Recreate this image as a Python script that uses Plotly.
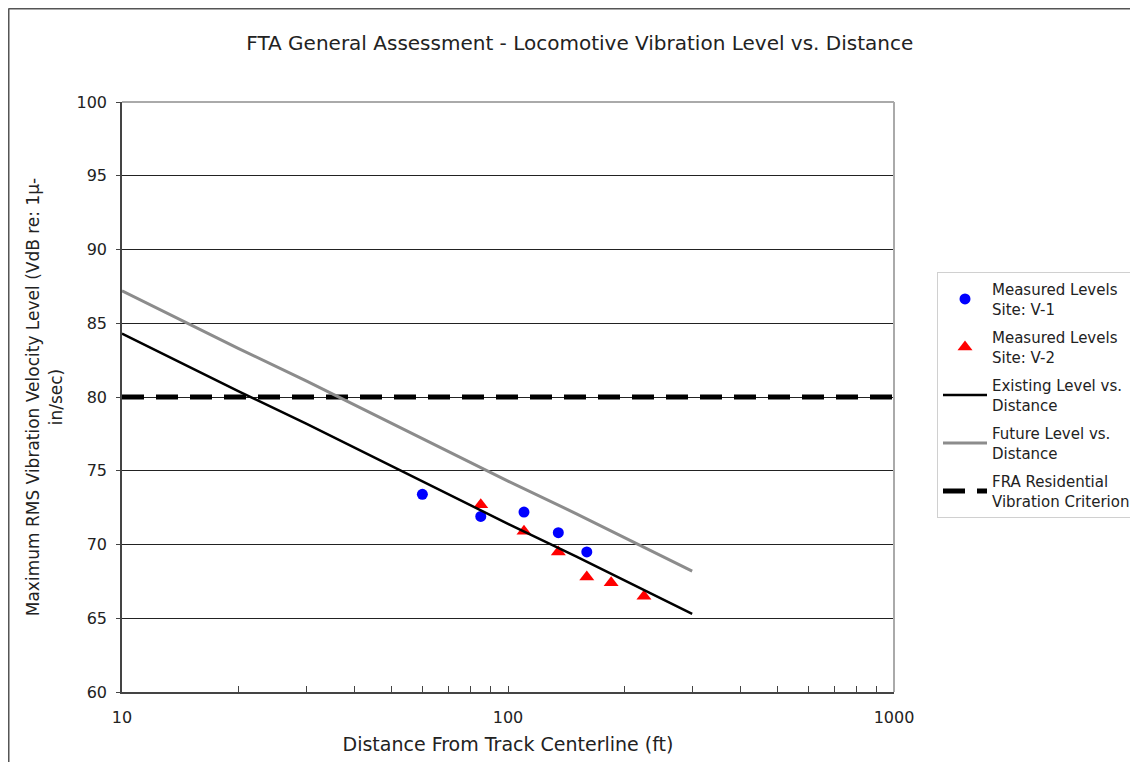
import plotly.graph_objects as go

# Measured data
v1_dist = [60, 85, 110, 135, 160]
v1_level = [73.4, 71.9, 72.2, 70.8, 69.5]
v2_dist = [85, 110, 135, 160, 185, 225]
v2_level = [72.7, 70.9, 69.5, 67.8, 67.4, 66.5]

# Curves
curve_dist = [10, 15, 20, 30, 50, 70, 100, 150, 200, 300]
existing_level = [84.3, 82.0, 80.4, 78.2, 75.3, 73.4, 71.4, 69.2, 67.6, 65.3]
future_level = [87.2, 84.9, 83.3, 81.1, 78.2, 76.3, 74.3, 72.1, 70.5, 68.2]

# Criterion
fra_dist = [10, 1000]
fra_level = [80, 80]

x_tickvals = [10, 20, 30, 40, 50, 60, 70, 80, 90, 100, 200, 300, 400, 500, 600, 700, 800, 900, 1000]
x_ticktext = ["10", "", "", "", "", "", "", "", "", "100", "", "", "", "", "", "", "", "", "1000"]
y_tickvals = [60, 65, 70, 75, 80, 85, 90, 95, 100]

font = "DejaVu Sans, Liberation Sans, Arial, sans-serif"
txt = "#222"

fig = go.Figure()
fig.add_trace(go.Scatter(x=v1_dist, y=v1_level, mode="markers",
                         marker=dict(color="#0000ff", size=11, symbol="circle"),
                         name="Measured Levels<br>Site: V-1", legendgroup="a", legendrank=1))
fig.add_trace(go.Scatter(x=v2_dist, y=v2_level, mode="markers",
                         marker=dict(color="#ff0000", size=13, symbol="triangle-up"),
                         name="Measured Levels<br>Site: V-2", legendgroup="b", legendrank=2))
fig.add_trace(go.Scatter(x=fra_dist, y=fra_level, mode="lines",
                         line=dict(color="black", width=5, dash="22px,12px"),
                         name="FRA Residential<br>Vibration Criterion", legendgroup="e", legendrank=5))
fig.add_trace(go.Scatter(x=curve_dist, y=existing_level, mode="lines",
                         line=dict(color="black", width=2.5),
                         name="Existing Level vs.<br>Distance", legendgroup="c", legendrank=3))
fig.add_trace(go.Scatter(x=curve_dist, y=future_level, mode="lines",
                         line=dict(color="#8c8c8c", width=3),
                         name="Future Level vs.<br>Distance", legendgroup="d", legendrank=4))

fig.update_layout(
    width=1130, height=754,
    margin=dict(l=114, r=244, t=94, b=70, autoexpand=False),
    paper_bgcolor="white", plot_bgcolor="white",
    font=dict(family=font, size=16, color=txt),
    title=dict(text="FTA General Assessment - Locomotive Vibration Level vs. Distance",
               x=0.506, xanchor="center", y=0.9536, yanchor="middle",
               font=dict(family=font, size=20, color=txt)),
    legend=dict(x=1.0557, xanchor="left", y=0.712, yanchor="top",
                bordercolor="#d0d0d0", borderwidth=1, bgcolor="white",
                font=dict(family=font, size=15, color=txt),
                traceorder="grouped", tracegroupgap=6, itemwidth=44),
    showlegend=True,
)
fig.update_xaxes(type="log", range=[1, 3], tickvals=x_tickvals, ticktext=x_ticktext,
                 ticks="inside", ticklen=6, tickcolor="#444",
                 showgrid=False, showline=True, linecolor="#444", linewidth=1.5,
                 tickfont=dict(family=font, size=16, color=txt), ticklabelstandoff=10,
                 title=dict(text="Distance From Track Centerline (ft)", standoff=12,
                            font=dict(family=font, size=19, color=txt)))
fig.update_yaxes(range=[60, 100], tickvals=y_tickvals,
                 ticks="outside", ticklen=4, tickcolor="#444",
                 showgrid=True, gridcolor="#222", gridwidth=1,
                 showline=True, linecolor="#444", linewidth=1.5,
                 tickfont=dict(family=font, size=16, color=txt), ticklabelstandoff=6,
                 title=dict(text="Maximum RMS Vibration Velocity Level (VdB re: 1µ-<br>in/sec)",
                            standoff=10, font=dict(family=font, size=17, color=txt)))

# plot frame top/right in light gray
fig.add_shape(type="line", xref="paper", yref="paper", x0=0, x1=1, y0=1, y1=1,
              line=dict(color="#aaaaaa", width=2))
fig.add_shape(type="line", xref="paper", yref="paper", x0=1, x1=1, y0=0, y1=1,
              line=dict(color="#aaaaaa", width=2))
# outer chart border (top and left)
fig.add_shape(type="line", xref="paper", yref="paper", x0=-0.147, x1=1.32, y0=1.1585, y1=1.1585,
              line=dict(color="#555555", width=2))
fig.add_shape(type="line", xref="paper", yref="paper", x0=-0.147, x1=-0.147, y0=-0.13, y1=1.1585,
              line=dict(color="#555555", width=2))

fig.write_html("out.html")
